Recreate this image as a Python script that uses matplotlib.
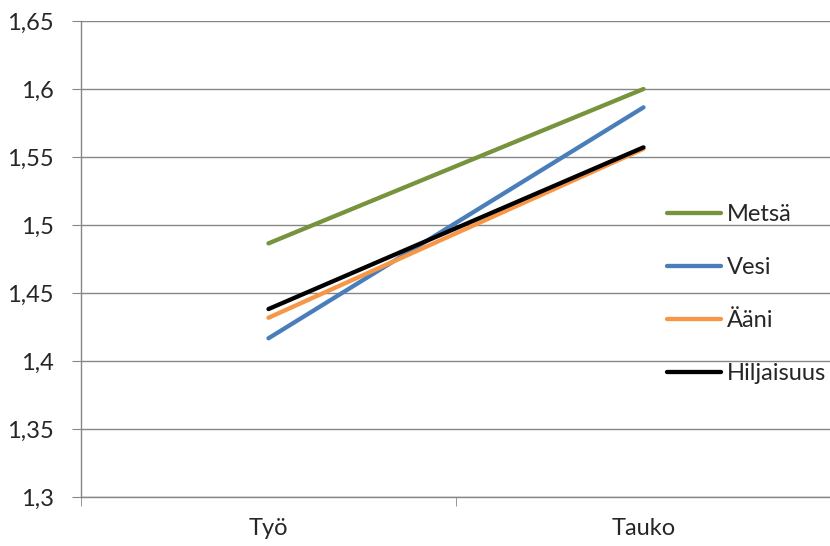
import matplotlib
matplotlib.use("Agg")
import matplotlib.pyplot as plt
from matplotlib.ticker import FuncFormatter

plt.rcParams['font.family'] = ['Lato', 'DejaVu Sans']

categories = ["Työ", "Tauko"]
series_names = ["Metsä", "Vesi", "Ääni", "Hiljaisuus"]
metsa = [1.4865, 1.600]
vesi = [1.4167, 1.5865]
aani = [1.4318, 1.556]
hiljaisuus = [1.4382, 1.5571]
y_ticks = [1.3, 1.35, 1.4, 1.45, 1.5, 1.55, 1.6, 1.65]

colors = ["#77933C", "#4A7EBB", "#F79646", "#000000"]
values = [metsa, vesi, aani, hiljaisuus]

fig = plt.figure(figsize=(8.30, 5.46), dpi=100)
ax = fig.add_axes([81 / 830, 1 - 497 / 546, (831 - 81) / 830, (497 - 21) / 546])

x = list(range(len(categories)))
for name, vals, c in zip(series_names, values, colors):
    ax.plot(x, vals, color=c, lw=3.1, solid_capstyle='round', label=name, zorder=3)

ax.set_xlim(-0.5, 1.5)
ax.set_ylim(1.3, 1.65)
ax.set_yticks(y_ticks)
ax.yaxis.set_major_formatter(FuncFormatter(lambda v, p: f"{v:g}".replace(".", ",")))
ax.set_xticks(x)
ax.set_xticklabels(categories)
ax.set_xticks([-0.5, 0.5, 1.5], minor=True)

grid_c = "#868686"
ax.grid(axis='y', color=grid_c, lw=1.0, zorder=0)
for s in ['top', 'right']:
    ax.spines[s].set_visible(False)
for s in ['left', 'bottom']:
    ax.spines[s].set_color(grid_c)
    ax.spines[s].set_linewidth(1.0)

ax.tick_params(axis='y', length=6.5, color=grid_c, labelsize=17, pad=13, labelcolor="#262626")
ax.tick_params(axis='x', which='major', length=0, labelsize=17, pad=15, labelcolor="#262626")
ax.tick_params(axis='x', which='minor', length=6.5, color=grid_c, direction='out')

leg = ax.legend(loc='center left', bbox_to_anchor=(667 / 830, 1 - 294 / 546),
                bbox_transform=fig.transFigure, frameon=False, fontsize=17,
                handlelength=2.3, handletextpad=0.25, labelspacing=1.36,
                borderpad=0, borderaxespad=0)
for t in leg.get_texts():
    t.set_color("#262626")

fig.savefig("out.png", dpi=100, facecolor="white")
